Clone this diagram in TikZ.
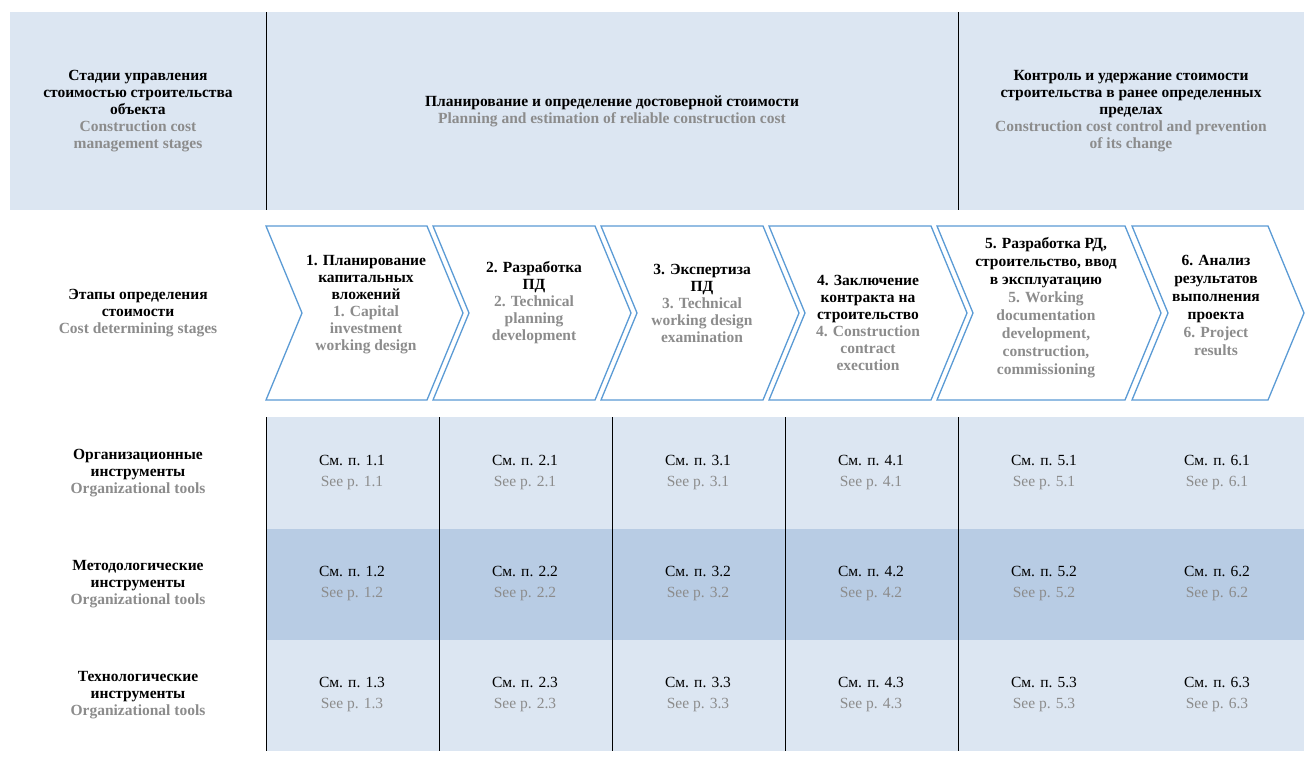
\documentclass[tikz,border=0pt]{standalone}
\usepackage{fontspec}
\setmainfont{Liberation Serif}
\begin{document}
\begin{tikzpicture}[x=1pt,y=-1pt,
  bk/.style={font=\bfseries\fontsize{15.5}{17}\selectfont,align=center,text=black},
  gr/.style={text=grayt},
  chev/.style={draw=chevblue,line width=1.3pt,fill=white},
  cell/.style={font=\fontsize{15.5}{21}\selectfont,align=center},
  ]
\definecolor{light}{HTML}{DCE6F2}
\definecolor{mid}{HTML}{B8CCE4}
\definecolor{chevblue}{HTML}{5B9BD5}
\definecolor{grayt}{HTML}{8C8C8C}
\useasboundingbox (0,0) rectangle (1313,763);
\fill[white] (0,0) rectangle (1313,763);
% header
\fill[light] (10,12) rectangle (1304,210);
\draw[line width=0.8pt] (266,12) -- (266,210) (958,12) -- (958,210);
\node[bk] (h1) at (138,111) {Стадии управления\\стоимостью строительства\\объекта\\\color{grayt}Construction cost\\\color{grayt}management stages};
\node[bk] (h2) at (612,111) {Планирование и определение достоверной стоимости\\\color{grayt}Planning and estimation of reliable construction cost};
\node[bk] (h3) at (1131,111) {Контроль и удержание стоимости\\строительства в ранее определенных\\пределах\\\color{grayt}Construction cost control and prevention\\\color{grayt}of its change};
% chevrons
\foreach \a/\b/\n in {266/427/1,433/595/2,601/763/3,769/931/4,937/1125/5,1132/1268/6}{
  \draw[chev] (\a,226) -- (\b,226) -- (\b+36,313) -- (\b,400) -- (\a,400) -- (\a+36,313) -- cycle;
}
\node[bk] (l0) at (138,313) {Этапы определения\\стоимости\\\color{grayt}Cost determining stages};
\node[bk] (c1) at (366,305) {1. Планирование\\капитальных\\вложений\\\color{grayt}1. Capital\\\color{grayt}investment\\\color{grayt}working design};
\node[bk] (c2) at (534,303) {2. Разработка\\ПД\\\color{grayt}2. Technical\\\color{grayt}planning\\\color{grayt}development};
\node[bk] (c3) at (702,303) {3. Экспертиза\\ПД\\\color{grayt}3. Technical\\\color{grayt}working design\\\color{grayt}examination};
\node[bk] (c4) at (868,323) {4. Заключение\\контракта на\\строительство\\\color{grayt}4. Construction\\\color{grayt}contract\\\color{grayt}execution};
\node[bk,font=\bfseries\fontsize{15.5}{18}\selectfont] (c5) at (1046,308) {5. Разработка РД,\\строительство, ввод\\в эксплуатацию\\\color{grayt}5. Working\\\color{grayt}documentation\\\color{grayt}development,\\\color{grayt}construction,\\\color{grayt}commissioning};
\node[bk,font=\bfseries\fontsize{15.5}{18}\selectfont] (c6) at (1216,305) {6. Анализ\\результатов\\выполнения\\проекта\\\color{grayt}6. Project\\\color{grayt}results};
% table
\fill[light] (266,417) rectangle (1304,529);
\fill[mid] (266,529) rectangle (1304,640);
\fill[light] (266,640) rectangle (1304,751);
\foreach \x in {266,439,612,785,958}{\draw[line width=0.8pt] (\x,417) -- (\x,751);}
\node[bk] (r1) at (138,473) {Организационные\\инструменты\\\color{grayt}Organizational tools};
\node[bk] (r2) at (138,584) {Методологические\\инструменты\\\color{grayt}Organizational tools};
\node[bk] (r3) at (138,695) {Технологические\\инструменты\\\color{grayt}Organizational tools};
\foreach \i/\x in {1/352,2/525,3/698,4/871,5/1044,6/1217}{
  \foreach \j/\y in {1/473,2/584,3/695}{
    \node[cell] (t\i\j) at (\x,\y) {См. п. \i.\j\\\color{grayt}See p. \i.\j};
  }
}
\end{tikzpicture}
\end{document}
